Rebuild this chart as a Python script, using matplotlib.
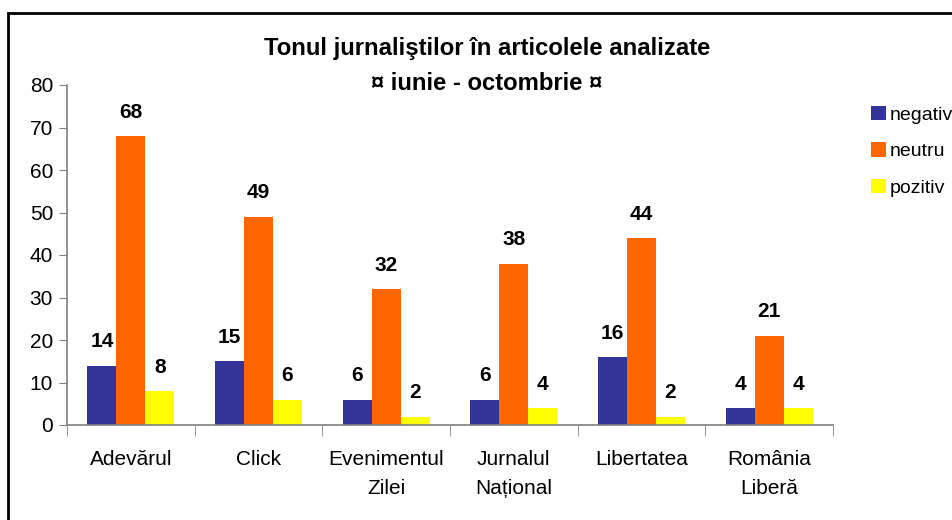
import numpy as np
import matplotlib.pyplot as plt
from matplotlib.patches import Rectangle, Patch

plt.rcParams['font.family'] = ['Liberation Sans', 'DejaVu Sans']

# date
ziare = ['Adevărul', 'Click', 'Evenimentul\nZilei', 'Jurnalul\nNațional', 'Libertatea', 'România\nLiberă']
negativ = [14, 15, 6, 6, 16, 4]
neutru = [68, 49, 32, 38, 44, 21]
pozitiv = [8, 6, 2, 4, 2, 4]
serii = ['negativ', 'neutru', 'pozitiv']
culori = ['#333399', '#FF6600', '#FFFF00']

W, H = 952, 520
fig = plt.figure(figsize=(W/100, H/100), dpi=100)
ax = fig.add_axes([67/W, 1-425/H, (833-67)/W, (425-85)/H])

x = np.arange(len(ziare))
w = 0.227
for k, (vals, col) in enumerate(zip([negativ, neutru, pozitiv], culori)):
    pos = x + (k-1)*w
    ax.bar(pos, vals, width=w, color=col, edgecolor='none', label=serii[k])
    for p, v in zip(pos, vals):
        ax.text(p, v + 3.4, str(v), ha='center', va='bottom', fontsize=15, fontweight='bold')

ax.set_xlim(-0.5, len(ziare)-0.5)
ax.set_ylim(0, 80)
ax.set_yticks(np.arange(0, 81, 10))
ax.tick_params(axis='y', labelsize=15, length=6, color='#808080', pad=4)
ax.set_xticks(x)
ax.set_xticklabels(ziare, fontsize=15, linespacing=1.7)
ax.tick_params(axis='x', length=0, pad=18)
ax.set_xticks(np.arange(-0.5, len(ziare)), minor=True)
ax.tick_params(axis='x', which='minor', length=8, color='#808080')
for s in ['top', 'right']:
    ax.spines[s].set_visible(False)
for s in ['left', 'bottom']:
    ax.spines[s].set_color('#808080')
    ax.spines[s].set_linewidth(1.2)

fig.text(487/W, 1-49/H, 'Tonul jurnaliştilor în articolele analizate', ha='center', va='center',
         fontsize=17.2, fontweight='bold')
fig.text(487/W, 1-83/H, '¤ iunie - octombrie ¤', ha='center', va='center',
         fontsize=17.2, fontweight='bold')

handles = [Patch(facecolor=c, edgecolor='none') for c in culori]
fig.legend(handles, serii, loc='upper left', bbox_to_anchor=(871/W, 1-106/H), frameon=False,
           fontsize=14, handlelength=0.75, handleheight=0.75, handletextpad=0.2, labelspacing=0.95,
           borderaxespad=0, borderpad=0)

fig.patches.append(Rectangle((8/W, -0.1), 1.2, 1.1 - 13/H, transform=fig.transFigure,
                             fill=False, edgecolor='black', linewidth=2))

fig.savefig('out.png', dpi=100)
